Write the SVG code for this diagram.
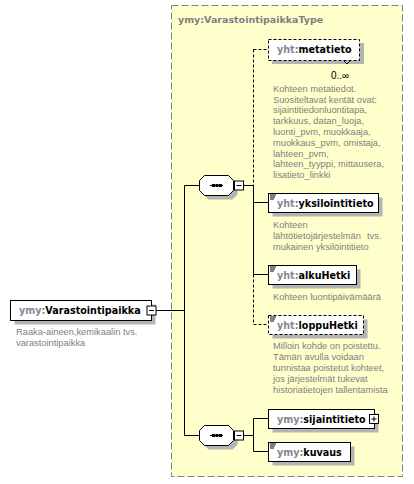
<svg xmlns="http://www.w3.org/2000/svg" width="414" height="484" viewBox="0 0 414 484">
<style>
.lbl{font-family:"DejaVu Sans",sans-serif;font-weight:bold;font-size:9.6px;fill:#000}
.pfx{fill:#858595}
.doc{font-family:"Liberation Sans",Arial,sans-serif;font-size:9.3px;fill:#808080}
.box{fill:#fff;stroke:#000;stroke-width:1}
.dbox{fill:#fff;stroke:#000;stroke-width:1;stroke-dasharray:3,2}
.shd{fill:#b4b4b4}
.ln{stroke:#000;stroke-width:1;fill:none}
.dln{stroke:#000;stroke-width:1;fill:none;stroke-dasharray:3,2}
.ico{stroke:#000;stroke-width:1}
</style>
<rect width="414" height="484" fill="#fff"/>
<g id="VarastointipaikkaType">
<rect x="171.5" y="5.5" width="231" height="471" fill="#ffffcc" stroke="#808080" stroke-dasharray="7,3"/>
<text x="178" y="23" style="font-family:'DejaVu Sans',sans-serif;font-weight:bold;font-size:9.5px;fill:#808080">ymy:VarastointipaikkaType</text>
</g>
<g id="connectors">
<line class="ln" x1="156" y1="310.5" x2="184.5" y2="310.5"/>
<line class="ln" x1="184.5" y1="185.5" x2="184.5" y2="435.5"/>
<line class="ln" x1="184.5" y1="185.5" x2="199.5" y2="185.5"/>
<line class="ln" x1="184.5" y1="435.5" x2="199.5" y2="435.5"/>
<line class="ln" x1="243.5" y1="185.5" x2="253.5" y2="185.5"/>
<line class="dln" x1="253.5" y1="49.5" x2="253.5" y2="185.5"/>
<line class="ln" x1="253.5" y1="185.5" x2="253.5" y2="274.5"/>
<line class="dln" x1="253.5" y1="274.5" x2="253.5" y2="324.5"/>
<line class="dln" x1="253.5" y1="49.5" x2="268.5" y2="49.5"/>
<line class="ln" x1="253.5" y1="202.5" x2="268.5" y2="202.5"/>
<line class="ln" x1="253.5" y1="274.5" x2="268.5" y2="274.5"/>
<line class="dln" x1="253.5" y1="324.5" x2="268.5" y2="324.5"/>
<line class="ln" x1="243.5" y1="435.5" x2="253.5" y2="435.5"/>
<line class="ln" x1="253.5" y1="418.5" x2="253.5" y2="451.5"/>
<line class="ln" x1="253.5" y1="418.5" x2="268.5" y2="418.5"/>
<line class="ln" x1="253.5" y1="451.5" x2="268.5" y2="451.5"/>
</g>
<g id="Varastointipaikka">
<rect class="shd" x="14.5" y="304.5" width="141" height="20"/>
<rect class="box" x="10.5" y="300.5" width="141" height="20"/>
<text class="lbl" x="19" y="314"><tspan class="pfx">ymy:</tspan>Varastointipaikka</text>
<rect class="box" x="147" y="306" width="9" height="9"/>
<line class="ln" x1="149" y1="310.5" x2="154" y2="310.5"/>
<text class="doc" x="16" y="335">Raaka-aineen,kemikaalin tvs.</text>
<text class="doc" x="16" y="345.7">varastointipaikka</text>
</g>
<g id="sequence1">
<polygon class="shd" points="203.5,184.5 208.5,179.5 232.5,179.5 237.5,184.5 237.5,194.5 232.5,199.5 208.5,199.5 203.5,194.5"/>
<polygon class="box" points="199.5,180.5 204.5,175.5 228.5,175.5 233.5,180.5 233.5,190.5 228.5,195.5 204.5,195.5 199.5,190.5"/>
<line class="ln" x1="210" y1="185.5" x2="223" y2="185.5"/>
<rect x="212" y="184" width="3" height="3"/><rect x="215.5" y="184" width="3" height="3"/><rect x="219" y="184" width="3" height="3"/>
<rect class="box" x="234.5" y="181" width="9" height="9"/>
<line class="ln" x1="236.5" y1="185.5" x2="241.5" y2="185.5"/>
</g>
<g id="metatieto">
<rect class="shd" x="272" y="43" width="92" height="21"/>
<rect class="dbox" x="268.5" y="39.5" width="91" height="21"/>
<polyline class="ln" points="344,61 347,64 350,61"/>
<text class="lbl" x="277" y="53"><tspan class="pfx">yht:</tspan>metatieto</text>
<text x="331" y="79" style="font-family:'Liberation Sans',Arial,sans-serif;font-size:10px;fill:#000">0..∞</text>
<text class="doc" x="273" y="91.7">Kohteen metatiedot.</text>
<text class="doc" x="273" y="102.5">Suositeltavat kentät ovat:</text>
<text class="doc" x="273" y="113.3">sijaintitiedonluontitapa,</text>
<text class="doc" x="273" y="124.1">tarkkuus, datan_luoja,</text>
<text class="doc" x="273" y="134.9">luonti_pvm, muokkaaja,</text>
<text class="doc" x="273" y="145.7">muokkaus_pvm, omistaja,</text>
<text class="doc" x="273" y="156.5">lahteen_pvm,</text>
<text class="doc" x="273" y="167.3">lahteen_tyyppi, mittausera,</text>
<text class="doc" x="273" y="178.1">lisatieto_linkki</text>
</g>
<g id="yksilointitieto">
<rect class="shd" x="272.5" y="197.5" width="110" height="19"/>
<rect class="box" x="268.5" y="193.5" width="110" height="19"/>
<line class="ico" x1="270" y1="195" x2="276" y2="195"/><line class="ico" x1="270" y1="197" x2="275" y2="197"/><line class="ico" x1="270" y1="199" x2="274" y2="199"/>
<text class="lbl" x="277" y="207"><tspan class="pfx">yht:</tspan>yksilointitieto</text>
<text class="doc" x="273" y="228.3">Kohteen</text>
<text class="doc" x="273" y="239">lähtötietojärjestelmän</text>
<text class="doc" x="367" y="239">tvs.</text>
<text class="doc" x="273" y="249.8">mukainen yksilöintitieto</text>
</g>
<g id="alkuHetki">
<rect class="shd" x="272.5" y="269.5" width="88" height="19"/>
<rect class="box" x="268.5" y="265.5" width="88" height="19"/>
<line class="ico" x1="270" y1="267" x2="276" y2="267"/><line class="ico" x1="270" y1="269" x2="275" y2="269"/><line class="ico" x1="270" y1="271" x2="274" y2="271"/>
<text class="lbl" x="277" y="279"><tspan class="pfx">yht:</tspan>alkuHetki</text>
<text class="doc" x="273" y="300">Kohteen luontipäivämäärä</text>
</g>
<g id="loppuHetki">
<rect class="shd" x="272.5" y="319.5" width="95" height="19"/>
<rect class="dbox" x="268.5" y="315.5" width="95" height="19"/>
<line class="ico" x1="270" y1="317" x2="276" y2="317"/><line class="ico" x1="270" y1="319" x2="275" y2="319"/><line class="ico" x1="270" y1="321" x2="274" y2="321"/>
<text class="lbl" x="277" y="329"><tspan class="pfx">yht:</tspan>loppuHetki</text>
<text class="doc" x="273" y="349.3">Milloin kohde on poistettu.</text>
<text class="doc" x="273" y="360.1">Tämän avulla voidaan</text>
<text class="doc" x="273" y="370.9">tunnistaa poistetut kohteet,</text>
<text class="doc" x="273" y="381.7">jos järjestelmät tukevat</text>
<text class="doc" x="273" y="392.5">historiatietojen tallentamista</text>
</g>
<g id="sequence2">
<polygon class="shd" points="203.5,434.5 208.5,429.5 232.5,429.5 237.5,434.5 237.5,444.5 232.5,449.5 208.5,449.5 203.5,444.5"/>
<polygon class="box" points="199.5,430.5 204.5,425.5 228.5,425.5 233.5,430.5 233.5,440.5 228.5,445.5 204.5,445.5 199.5,440.5"/>
<line class="ln" x1="210" y1="435.5" x2="223" y2="435.5"/>
<rect x="212" y="434" width="3" height="3"/><rect x="215.5" y="434" width="3" height="3"/><rect x="219" y="434" width="3" height="3"/>
<rect class="box" x="234.5" y="431" width="9" height="9"/>
<line class="ln" x1="236.5" y1="435.5" x2="241.5" y2="435.5"/>
</g>
<g id="sijaintitieto">
<rect class="shd" x="272.5" y="413.5" width="106" height="19"/>
<rect class="box" x="268.5" y="409.5" width="106" height="19"/>
<text class="lbl" x="277" y="423.3"><tspan class="pfx">ymy:</tspan>sijaintitieto</text>
<rect class="box" x="369.5" y="414.5" width="9" height="9"/>
<line class="ln" x1="371.5" y1="419" x2="376.5" y2="419"/>
<line class="ln" x1="374" y1="416.5" x2="374" y2="421.5"/>
</g>
<g id="kuvaus">
<rect class="shd" x="272.5" y="446.5" width="82" height="19"/>
<rect class="box" x="268.5" y="442.5" width="82" height="19"/>
<line class="ico" x1="270" y1="444" x2="276" y2="444"/><line class="ico" x1="270" y1="446" x2="275" y2="446"/><line class="ico" x1="270" y1="448" x2="274" y2="448"/>
<text class="lbl" x="277" y="456"><tspan class="pfx">ymy:</tspan>kuvaus</text>
</g>
</svg>
